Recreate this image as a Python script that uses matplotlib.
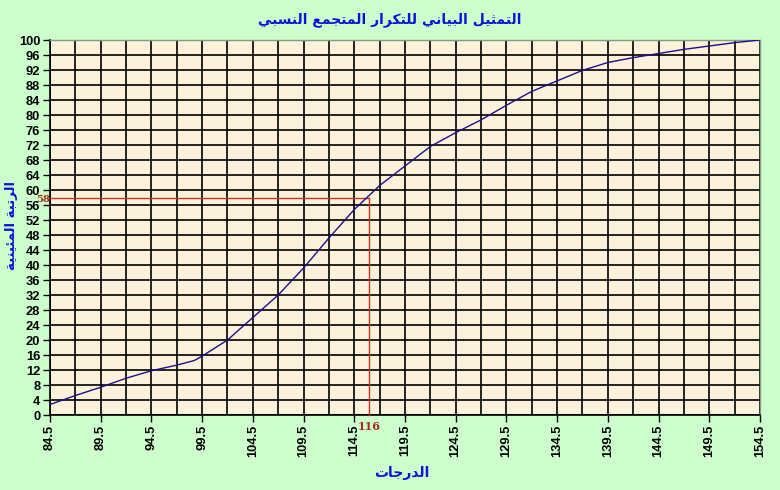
import numpy as np
import matplotlib
matplotlib.use("Agg")
import matplotlib.pyplot as plt
from matplotlib.ticker import FixedLocator

# --------------------------------- Data -------------------------------- #
grades = [84.5, 87, 89.5, 92, 94.5, 97, 98.7, 99.5, 102, 104.5, 107, 109.5, 112,
          114.5, 117, 119.5, 122, 124.5, 127, 129.5, 132, 134.5, 137, 139.5,
          142, 144.5, 147, 149.5, 152, 154.5]
percentile = [2.8, 5.2, 7.4, 9.8, 11.8, 13.3, 14.5, 15.7, 20.0, 26.0, 32.0, 39.2, 47.2,
              54.8, 61.2, 66.4, 71.6, 75.3, 78.7, 82.6, 86.3, 89.1, 91.9, 94.0,
              95.3, 96.4, 97.5, 98.4, 99.3, 100]
x_ticks = [84.5, 89.5, 94.5, 99.5, 104.5, 109.5, 114.5, 119.5, 124.5, 129.5,
           134.5, 139.5, 144.5, 149.5, 154.5]
y_ticks = list(range(0, 101, 4))
mark_x = 116
mark_y = 58

TITLE = "التمثيل البياني للتكرار المتجمع النسبي"
XLABEL = "الدرجات"
YLABEL = "الرتبة المئينية"

# ------------------------- Arabic shaping (no raqm) ------------------------ #
# (isolated, final, initial, medial)
FORMS = {
    'ا': (0xFE8D, 0xFE8E, None, None),
    'ب': (0xFE8F, 0xFE90, 0xFE91, 0xFE92),
    'ة': (0xFE93, 0xFE94, None, None),
    'ت': (0xFE95, 0xFE96, 0xFE97, 0xFE98),
    'ث': (0xFE99, 0xFE9A, 0xFE9B, 0xFE9C),
    'ج': (0xFE9D, 0xFE9E, 0xFE9F, 0xFEA0),
    'د': (0xFEA9, 0xFEAA, None, None),
    'ر': (0xFEAD, 0xFEAE, None, None),
    'س': (0xFEB1, 0xFEB2, 0xFEB3, 0xFEB4),
    'ع': (0xFEC9, 0xFECA, 0xFECB, 0xFECC),
    'ك': (0xFED9, 0xFEDA, 0xFEDB, 0xFEDC),
    'ل': (0xFEDD, 0xFEDE, 0xFEDF, 0xFEE0),
    'م': (0xFEE1, 0xFEE2, 0xFEE3, 0xFEE4),
    'ن': (0xFEE5, 0xFEE6, 0xFEE7, 0xFEE8),
    'ي': (0xFEF1, 0xFEF2, 0xFEF3, 0xFEF4),
    'ئ': (0xFE89, 0xFE8A, 0xFE8B, 0xFE8C),
}


def shape(text):
    out = []
    for i, ch in enumerate(text):
        if ch not in FORMS:
            out.append(ch)
            continue
        prev = text[i - 1] if i > 0 else ''
        nxt = text[i + 1] if i + 1 < len(text) else ''
        join_prev = prev in FORMS and FORMS[prev][2] is not None
        join_next = FORMS[ch][2] is not None and nxt in FORMS
        iso, fin, ini, med = FORMS[ch]
        if join_prev and join_next:
            code = med
        elif join_prev:
            code = fin
        elif join_next:
            code = ini
        else:
            code = iso
        out.append(chr(code))
    return ''.join(out)[::-1]


# --------------------------------- Figure -------------------------------- #
BG = '#ccffcc'
PLOT_BG = '#fcf1da'
BLUE = '#0a14d8'
RED = '#c8321e'

fig = plt.figure(figsize=(7.8, 4.9), dpi=100, facecolor=BG)
ax = fig.add_axes([50 / 780, 1 - 415 / 490, 710 / 780, 375 / 490])
ax.set_facecolor(PLOT_BG)

ax.set_xlim(84.5, 154.5)
ax.set_ylim(0, 100)
ax.set_xticks(x_ticks)
ax.xaxis.set_minor_locator(FixedLocator([t + 2.5 for t in x_ticks[:-1]]))
ax.set_yticks(y_ticks)
ax.set_xticklabels([str(t) for t in x_ticks])

ax.grid(which='both', axis='x', color='black', lw=1.2)
ax.grid(which='major', axis='y', color='black', lw=1.2)
ax.set_axisbelow(True)

ax.tick_params(axis='x', which='major', direction='out', length=5, width=1,
               labelrotation=90, pad=2)
ax.tick_params(axis='x', which='minor', length=0)
ax.tick_params(axis='y', direction='out', length=5, width=1, pad=2)
for lbl in ax.get_xticklabels() + ax.get_yticklabels():
    lbl.set_fontfamily('Liberation Sans')
    lbl.set_fontweight('bold')
    lbl.set_fontsize(9.3)

for side in ['top', 'right']:
    ax.spines[side].set_color('#8a9a8a')
    ax.spines[side].set_linewidth(1)
for side in ['left', 'bottom']:
    ax.spines[side].set_color('black')
    ax.spines[side].set_linewidth(1.2)

# curve
ax.plot(grades, percentile, color='#1e0f8c', lw=1.0, zorder=4)

# reading lines
ax.plot([84.5, mark_x], [mark_y, mark_y], color=RED, lw=1.0, zorder=3,
        clip_on=False)
ax.plot([mark_x, mark_x], [0, mark_y], color=RED, lw=1.0, zorder=3,
        clip_on=False)
ax.annotate(str(mark_y), xy=(84.5, mark_y), xytext=(0, -1.2),
            textcoords='offset points', color='#a8281a', fontsize=7.2,
            fontweight='bold', family='DejaVu Serif', ha='right', va='center')
ax.annotate(str(mark_x), xy=(mark_x, 0), xytext=(0, -4),
            textcoords='offset points', color='#a8281a', fontsize=8,
            fontweight='bold', family='DejaVu Serif', ha='center', va='top')

# titles
fig.text(390 / 780, 1 - 20 / 490, shape(TITLE), color=BLUE, fontsize=10,
         fontweight='bold', family='DejaVu Sans', ha='center', va='center')
fig.text(402 / 780, 1 - 473 / 490, shape(XLABEL), color=BLUE, fontsize=10,
         fontweight='bold', family='DejaVu Sans', ha='center', va='center')
fig.text(12 / 780, 1 - 226 / 490, shape(YLABEL), color=BLUE, fontsize=9.5,
         fontweight='bold', family='DejaVu Sans', ha='center', va='center',
         rotation=90)

fig.savefig('out.png', dpi=100, facecolor=BG)
